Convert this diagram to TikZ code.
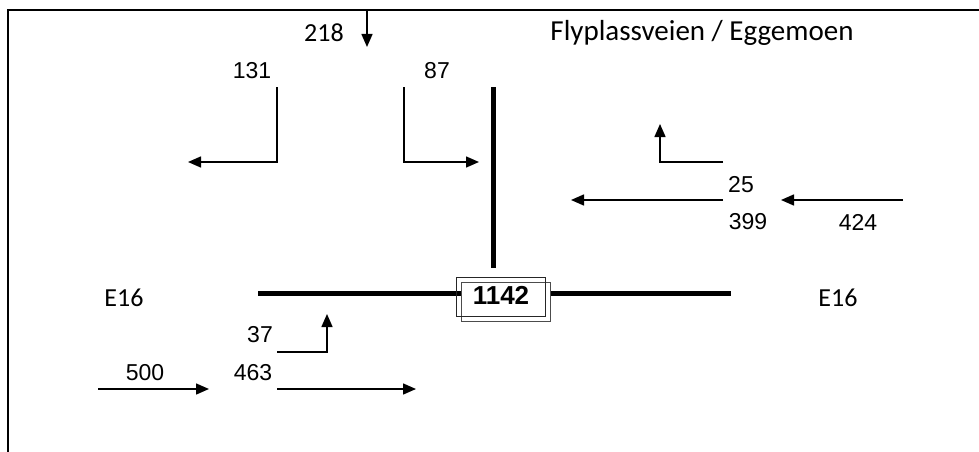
\documentclass[tikz,border=0pt]{standalone}
\usepackage{fontspec}
\setmainfont{Liberation Sans}
\newfontfamily\calibri{Carlito}
\usetikzlibrary{arrows.meta}
\tikzset{
  flow/.style={line width=1.5pt, -{Triangle[length=13pt,width=11pt]}},
  road/.style={line width=5pt},
  num/.style={font=\fontsize{23}{23}\selectfont, inner sep=0pt},
  roadname/.style={font=\calibri\fontsize{26}{26}\selectfont, inner sep=0pt},
  junction/.style={draw, line width=1pt, fill=white, minimum width=89pt, minimum height=39pt, inner sep=0pt},
}
\begin{document}
\begin{tikzpicture}[x=1pt,y=-1pt]
\useasboundingbox (0,0) rectangle (979,452);
% frame
\draw[line width=2pt] (979,10) -- (8,10) -- (8,452);

% roads
\coordinate (nTop) at (493,87);
\coordinate (nBot) at (493,268);
\coordinate (eW) at (258,293);
\coordinate (eE) at (731,293);
\draw[road] (nTop) -- (nBot);
\draw[road] (eW) -- (eE);

% junction box with offset second frame
\node[junction, draw=black!70] (jb) at (506,301.5) {};
\node[junction, draw=black!85, fill=none] (ja) at (501,296.5) {};
\node[font=\bfseries\fontsize{26}{26}\selectfont, inner sep=0pt] (jt) at (501,295) {1142};

% road names
\node[roadname, font=\calibri\fontsize{29}{29}\selectfont] (fly) at (702,33) {Flyplassveien / Eggemoen};
\node[roadname] (e16w) at (124,298) {E16};
\node[roadname] (e16e) at (838,298) {E16};

% from the north
\node[roadname] (n218) at (324,33) {218};
\coordinate (a218s) at (367,10);
\coordinate (a218e) at (367,47);
\draw[flow] (a218s) -- (a218e);

\node[num] (n131) at (252,71) {131};
\coordinate (a131s) at (277,87);
\coordinate (a131e) at (188,162);
\draw[flow] (a131s) |- (a131e);

\node[num] (n87) at (437,71) {87};
\coordinate (a87s) at (404,87);
\coordinate (a87e) at (479,162);
\draw[flow] (a87s) |- (a87e);

% from the east
\node[num] (n25) at (741,185) {25};
\coordinate (a25s) at (723,162);
\coordinate (a25e) at (660,124);
\draw[flow] (a25s) -| (a25e);

\node[num] (n399) at (748,222) {399};
\coordinate (a399s) at (723,200);
\coordinate (a399e) at (571,200);
\draw[flow] (a399s) -- (a399e);

\node[num] (n424) at (858,222) {424};
\coordinate (a424s) at (903,200);
\coordinate (a424e) at (781,200);
\draw[flow] (a424s) -- (a424e);

% from the west
\node[num] (n37) at (260,335) {37};
\coordinate (a37s) at (277,352);
\coordinate (a37e) at (327,314);
\draw[flow] (a37s) -| (a37e);

\node[num] (n463) at (253,373) {463};
\coordinate (a463s) at (277,389);
\coordinate (a463e) at (416,389);
\draw[flow] (a463s) -- (a463e);

\node[num] (n500) at (145,373) {500};
\coordinate (a500s) at (98,389);
\coordinate (a500e) at (209,389);
\draw[flow] (a500s) -- (a500e);
\end{tikzpicture}
\end{document}
